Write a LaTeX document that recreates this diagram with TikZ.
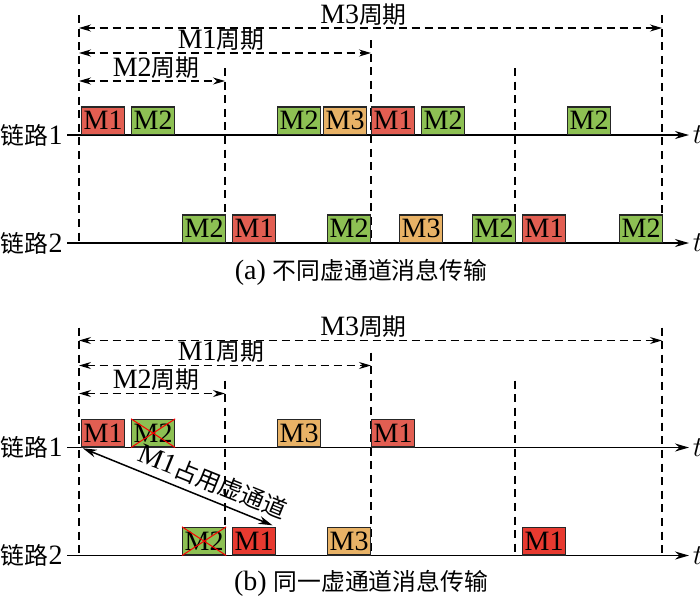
\documentclass[tikz,border=0pt]{standalone}
\usepackage{fontspec}
\setmainfont{Liberation Serif}
\newfontfamily\cjk[Scale=0.85]{Noto Sans CJK SC}
\newcommand{\zh}[1]{{\cjk #1}}
\usetikzlibrary{arrows.meta}

\definecolor{col1}{RGB}{226,94,82}
\definecolor{col1b}{RGB}{232,58,48}
\definecolor{col2}{RGB}{141,192,83}
\definecolor{col3}{RGB}{232,178,102}

\tikzset{
  msg/.style={draw=black!85, line width=0.6pt, minimum width=21.5pt, minimum height=13.75pt,
    inner sep=0pt, anchor=south west},
  axis/.style={line width=0.75pt, -{Stealth[length=7pt,width=4pt]}},
  grid/.style={dash pattern=on 4pt off 2.8pt, line width=0.65pt},
  period/.style={dash pattern=on 4pt off 2.5pt, line width=0.6pt,
    {Stealth[length=6pt,width=3.5pt]}-{Stealth[length=6pt,width=3.5pt]}},
  plabel/.style={above, inner sep=1pt},
  xout/.style={red, line width=0.5pt},
}

\begin{document}
\begin{tikzpicture}[x=0.5pt, y=-0.5pt, font=\fontsize{14}{16}\selectfont]
\useasboundingbox (0,0) rectangle (700,596);

% frame of both parts
\foreach \p/\dy in {a/0,b/312.5}{
\begin{scope}[shift={(0,\dy)}]
  \foreach \x/\top in {79/15,225/68,371/40,515/68,662/15}
    \draw[grid] (\x,\top) -- (\x,243);
  \draw[period] (79,28) -- node[plabel, xshift=-3.5pt] {M3\zh{周期}} (662,28);
  \draw[period] (79,53) -- node[plabel, xshift=-2pt] {M1\zh{周期}} (371,53);
  \draw[period] (79,81) -- node[plabel, xshift=2pt] {M2\zh{周期}} (225,81);
  \coordinate (\p-s1) at (67,135);
  \coordinate (\p-e1) at (689,135);
  \coordinate (\p-s2) at (67,243);
  \coordinate (\p-e2) at (689,243);
  \draw[axis] (\p-s1) -- (\p-e1) node[right, inner sep=1.5pt] {$t$};
  \draw[axis] (\p-s2) -- (\p-e2) node[right, inner sep=1.5pt] {$t$};
  \node[anchor=east, inner sep=1pt] (\p-n1) at (65,135) {\zh{链路}1};
  \node[anchor=east, inner sep=1pt] (\p-n2) at (65,243) {\zh{链路}2};
\end{scope}
}

% (a) different virtual channels
\foreach \x/\k [count=\i] in {81/1,131/2,277/2,323/3,371/1,421/2,567/2}
  \node[msg, fill=col\k] (a-1-\i) at (\x,135) {M\k};
\foreach \x/\k [count=\i] in {182/2,232/1,327/2,399/3,472/2,522/1,619/2}
  \node[msg, fill=col\k] (a-2-\i) at (\x,243) {M\k};
\node (a-cap) at (361,272) {(a) \zh{不同虚通道消息传输}};

% (b) same virtual channel
\node[msg, fill=col1] (b-1-1) at (81,447.5) {M1};
\node[msg, fill=col2] (b-1-2) at (131,447.5) {M2};
\node[msg, fill=col3] (b-1-3) at (277,447.5) {M3};
\node[msg, fill=col1] (b-1-4) at (371,447.5) {M1};
\node[msg, fill=col2] (b-2-1) at (182,555.5) {M2};
\node[msg, fill=col1b] (b-2-2) at (232,555.5) {M1};
\node[msg, fill=col3] (b-2-3) at (327,555.5) {M3};
\node[msg, fill=col1b] (b-2-4) at (522,555.5) {M1};
\foreach \n in {b-1-2,b-2-1}
  \draw[xout] (\n.north west) -- (\n.south east) (\n.south west) -- (\n.north east);
\draw[line width=0.75pt, {Stealth[length=7pt,width=4pt]}-{Stealth[length=7pt,width=4pt]},
  shorten <=1pt, shorten >=2pt] (b-1-1.south west) --
  node[sloped, above, pos=0.64, inner sep=3pt] {M1\zh{占用虚通道}} (b-2-2.north east);
\node (b-cap) at (361,583) {(b) \zh{同一虚通道消息传输}};
\end{tikzpicture}
\end{document}
